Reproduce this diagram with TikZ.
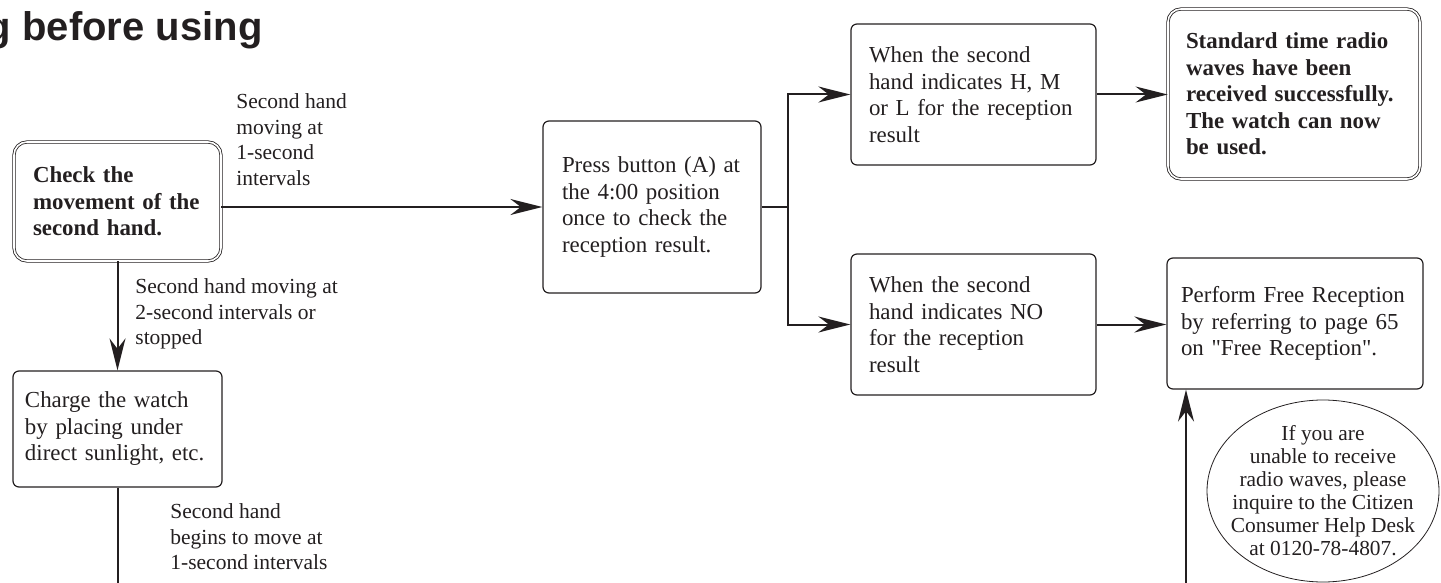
\documentclass[tikz,border=0pt]{standalone}
\usepackage{fontspec}
\setmainfont{Liberation Serif}
\newfontfamily\titlefont{Liberation Sans}
\usetikzlibrary{shapes.geometric, arrows.meta, positioning}
\definecolor{inkblack}{RGB}{35,31,32}

\begin{document}
\begin{tikzpicture}[
        x=0.5pt, y=-0.5pt,
        every node/.style={text=inkblack},
        box/.style={rectangle, draw=inkblack, line width=0.6pt, rounded corners=3pt, align=left, inner ysep=0pt, font=\fontsize{11.45}{13.25}\selectfont},
        startbox/.style={box, double, line width=0.4pt, double distance=0.8pt, rounded corners=6.5pt, font=\fontsize{11.45}{13.25}\selectfont\bfseries},
        note/.style={align=left, inner sep=0pt, anchor=north west, font=\fontsize{10.75}{12.9}\selectfont},
        flow/.style={draw=inkblack, line width=1pt, -{Stealth[length=16pt, width=8pt]}},
        link/.style={draw=inkblack, line width=1pt}
    ]
        \useasboundingbox (0,0) rectangle (1441,583);

        \node[anchor=base west, inner sep=0pt, font=\titlefont\bfseries\fontsize{20}{24}\selectfont] (title) at (-13.4,41) {g before using};

        \node[startbox, inner xsep=9.5pt, text width=84.5pt, minimum height=59.5pt] (check) at (117.5,201.5) {Check the\\movement of the\\second hand.};
        \node[box, inner xsep=6pt, text width=92.5pt, minimum height=58pt] (charge) at (117.5,429) {Charge the watch\\by placing under\\direct sunlight, etc.};
        \node[box, inner xsep=9.5pt, text width=90pt, minimum height=86pt] (press) at (652,207) {Press button (A) at\\the 4:00 position\\once to check the\\reception result.};
        \node[box, inner xsep=9pt, text width=104.5pt, minimum height=70.5pt] (hml) at (973.5,94.5) {When the second\\hand indicates H, M\\or L for the reception\\result};
        \node[box, inner xsep=9pt, text width=104.5pt, minimum height=70.5pt] (nosignal) at (973.5,324.5) {When the second\\hand indicates NO\\for the reception\\result};
        \node[startbox, inner xsep=9pt, text width=108pt, minimum height=85pt] (ready) at (1294,94) {Standard time radio\\waves have been\\received successfully.\\The watch can now\\be used.};
        \node[box, inner xsep=7pt, text width=114pt, minimum height=65.5pt] (free) at (1295,323.5) {Perform Free Reception\\by referring to page 65\\on \textquotedbl Free Reception\textquotedbl.};

        \node[ellipse, draw=inkblack, line width=0.4pt, minimum width=116pt, minimum height=91pt, inner sep=0pt] (desk) at (1323,491) {};
        \node[align=center, inner sep=0pt, font=\fontsize{10.7}{11.5}\selectfont] (desktext) at (desk) {If you are\\unable to receive\\radio waves, please\\inquire to the Citizen\\Consumer Help Desk\\at 0120-78-4807.};

        \node[note] (moving) at (236,93) {Second hand\\moving at\\1-second\\intervals};
        \node[note] (stopped) at (135,278) {Second hand moving at\\2-second intervals or\\stopped};
        \node[note] (begins) at (170,503) {Second hand\\begins to move at\\1-second intervals};

        \coordinate (fork) at (788,207);
        \coordinate (chargeout) at (117.5,600);
        \coordinate (freein) at (1186,600);

        \draw[flow] (check.east |- press.west) -- (press.west);
        \draw[flow] (check.south) -- (charge.north);
        \draw[link] (charge.south) -- (chargeout);
        \draw[link] (press.east) -- (fork);
        \draw[flow] (fork) |- (hml.west);
        \draw[flow] (fork) |- (nosignal.west);
        \draw[flow] (hml.east) -- (ready.west |- hml.east);
        \draw[flow] (nosignal.east) -- (free.west |- nosignal.east);
        \draw[flow] (freein) -- (freein |- free.south);
    \end{tikzpicture}
\end{document}
